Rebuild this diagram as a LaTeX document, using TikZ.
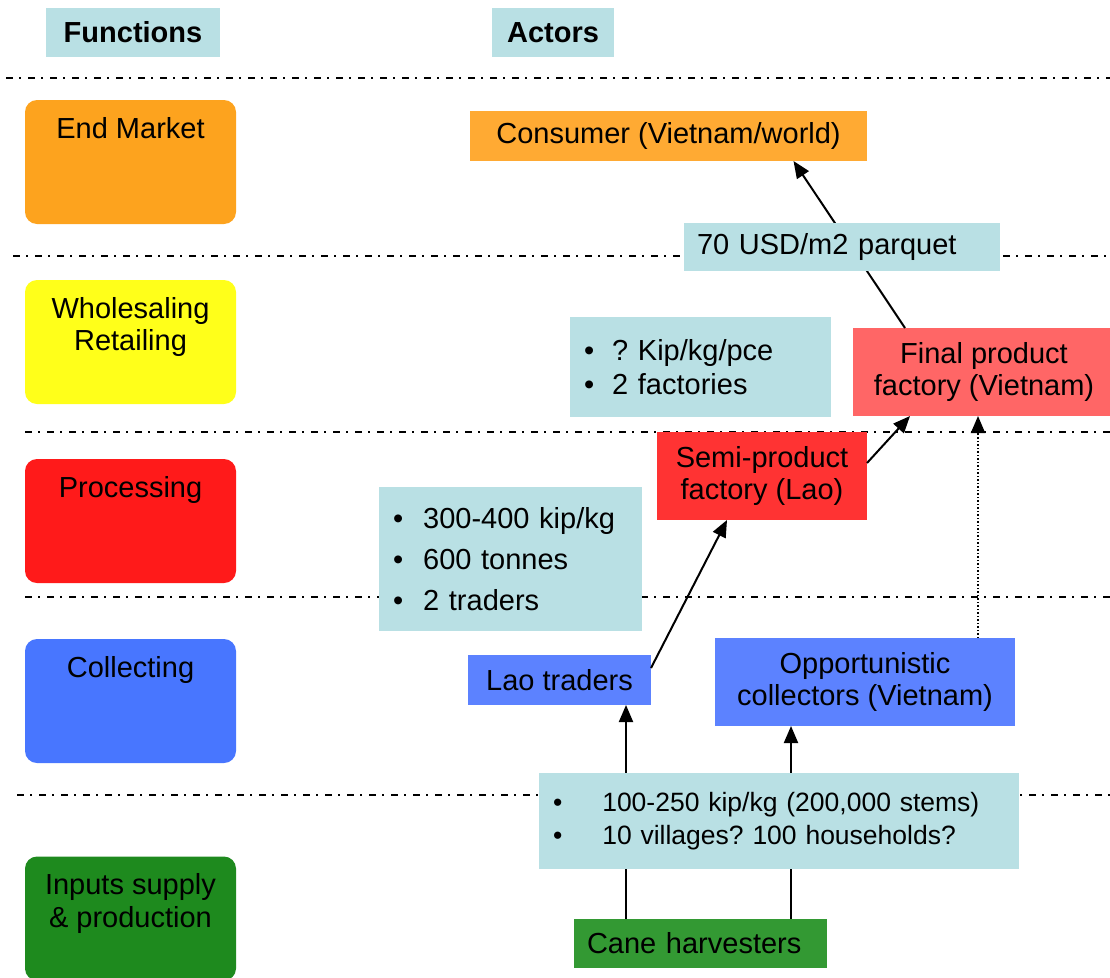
\documentclass[tikz,border=0pt]{standalone}
\usepackage{fontspec}
\setmainfont{Liberation Sans}
\usepackage{xcolor}
\usetikzlibrary{calc}
\usetikzlibrary{arrows.meta,positioning}
\definecolor{hdblue}{RGB}{185,224,228}
\definecolor{emorange}{RGB}{253,163,30}
\definecolor{consorange}{RGB}{255,170,51}
\definecolor{wsyellow}{RGB}{255,255,26}
\definecolor{prred}{RGB}{255,26,26}
\definecolor{semired}{RGB}{255,51,51}
\definecolor{finred}{RGB}{255,102,102}
\definecolor{coblue}{RGB}{72,118,255}
\definecolor{laoblue}{RGB}{92,130,255}
\definecolor{ipgreen}{RGB}{30,138,30}
\definecolor{canegreen}{RGB}{51,153,51}
\tikzstyle{hd}=[fill=hdblue, font=\bfseries, minimum height=49pt, inner sep=0pt, outer sep=0pt]
\tikzstyle{fn}=[rounded corners=12pt, minimum width=211pt, minimum height=124pt, inner sep=0pt, outer sep=0pt]
\tikzstyle{fnlab}=[anchor=north, inner sep=0pt, yshift=-17pt, align=center]
\tikzstyle{act}=[align=center, inner sep=0pt, outer sep=0pt]
\tikzstyle{info}=[fill=hdblue, align=left, inner xsep=14pt, inner ysep=0pt, outer sep=0pt]
\tikzstyle{sep}=[line width=2pt, dash pattern=on 7pt off 6pt on 2pt off 7pt]
\tikzset{flow/.style={-{Triangle[length=17pt,width=14pt]}, line width=2pt}}

\begin{document}
\fontsize{29}{32.5}\selectfont
\begin{tikzpicture}[x=1pt,y=-1pt]
\useasboundingbox (0,0) rectangle (1110,977);
\clip (0,0) rectangle (1110,977);
%\fill[white] (0,0) rectangle (1110,977);

% level separators
\draw[sep] (6,78) -- (1110,78);
\draw[sep] (13,256) -- (1110,256);
\draw[sep] (25,432) -- (1110,432);
\draw[sep] (25,597) -- (1110,597);
\draw[sep] (17,795) -- (1110,795);

% headers
\node[hd, minimum width=174pt] (hfun) at (133,32.5) {Functions};
\node[hd, minimum width=122pt] (hact) at (553,32.5) {Actors};

% functions
\node[fn, fill=emorange, label={[fnlab]north:End Market}] (em) at (130.5,162) {};
\node[fn, fill=wsyellow, label={[fnlab]north:{Wholesaling\\Retailing}}] (ws) at (130.5,342) {};
\node[fn, fill=prred, label={[fnlab]north:Processing}] (pr) at (130.5,521) {};
\node[fn, fill=coblue, label={[fnlab]north:Collecting}] (co) at (130.5,701) {};
\node[fn, fill=ipgreen, label={[fnlab]north:{Inputs supply\\\& production}}] (ip) at (130.5,918.5) {};

% actors
\node[act, fill=consorange, minimum width=397pt, minimum height=50pt] (cons) at (668.5,136) {Consumer (Vietnam/world)};
\node[act, fill=finred, minimum width=262pt, minimum height=88pt] (fin) at (984,372) {Final product\\factory (Vietnam)};
\node[act, fill=semired, minimum width=210pt, minimum height=88pt] (semi) at (762,476) {Semi-product\\factory (Lao)};
\node[act, fill=laoblue, minimum width=183pt, minimum height=50pt] (lao) at (559.5,680) {Lao traders};
\node[act, fill=laoblue, minimum width=300pt, minimum height=88pt] (opp) at (865,682) {Opportunistic\\collectors (Vietnam)};
\node[info, fill=canegreen, inner xsep=13pt, text width=227pt, minimum height=49pt] (cane) at (700.5,943.5) {Cane harvesters};

% figures per level
\node[info, text width=233pt, minimum height=100pt] (wsinfo) at (700.5,367) {\textbullet\hspace{18pt}?\ Kip/kg/pce\\[1.5pt]\textbullet\hspace{18pt}2 factories};
\node[info, text width=235pt, minimum height=144pt] (prinfo) at (510.5,559) {\textbullet\hspace{20pt}300-400 kip/kg\\[8.5pt]\textbullet\hspace{20pt}600 tonnes\\[8.5pt]\textbullet\hspace{20pt}2 traders};

% flows
\draw[flow] ([xshift=-79pt]fin.north) -- ([xshift=125pt]cons.south);
\draw[flow] ([yshift=13pt]semi.east) -- ([xshift=-74pt]fin.south);
\draw[flow] ([yshift=12pt]lao.east) -- ([xshift=-35pt]semi.south);
\coordinate (c0) at ([xshift=113pt]opp.north);
\coordinate (c0e) at ([yshift=-18pt]c0 |- fin.south);
\draw[line width=1.5pt, dotted] (c0) -- (c0e);
\draw[flow] ([yshift=-1pt]c0e) -- (c0 |- fin.south);
\coordinate (c1) at ([xshift=-74.5pt]cane.north);
\coordinate (c2) at ([xshift=90.5pt]cane.north);
\draw[flow] (c1) -- (c1 |- lao.south);
\draw[flow] (c2) -- (c2 |- opp.south);

\node[info, inner xsep=13pt, text width=290pt, minimum height=48pt] (usd) at (842,247) {70 USD/m2 parquet};
\node[info, text width=452pt, minimum height=96pt, font=\fontsize{26.5}{33}\selectfont] (coinfo) at (779,821) {\textbullet\hspace{40pt}100-250 kip/kg (200,000 stems)\\\textbullet\hspace{40pt}10 villages?\ 100 households?};

\end{tikzpicture}
\end{document}
